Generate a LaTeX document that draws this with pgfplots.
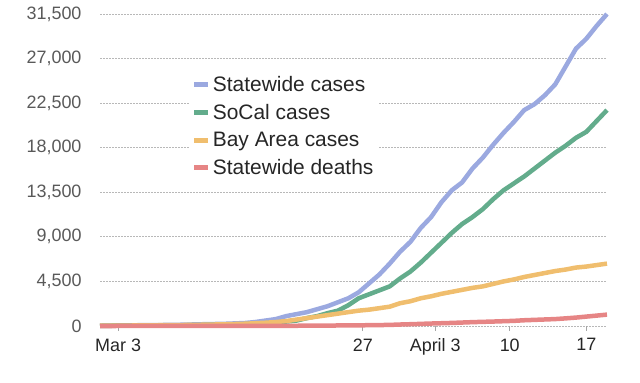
\documentclass[border=0pt]{standalone}
\usepackage{pgfplots}
\pgfplotsset{compat=1.18}
\usepackage{fontspec}
\setmainfont{Liberation Sans}
\definecolor{cblue}{HTML}{9BA9E0}
\definecolor{cgreen}{HTML}{63AC8C}
\definecolor{corange}{HTML}{F0BE6E}
\definecolor{cred}{HTML}{E68585}
\begin{document}
\begin{tikzpicture}
\begin{axis}[
  scale only axis, width=507bp, height=312bp,
  xmin=-2, xmax=47, ymin=0, ymax=31500,
  clip=false,
  axis x line*=bottom, axis y line*=left, axis line style={draw=none},
  xtick={-0.25,23.4,30.4,37.6,45},
  xticklabels={Mar 3,27,April 3,10,17},
  ytick={0,4500,9000,13500,18000,22500,27000,31500},
  ymajorgrids,
  grid style={black!28, dash pattern=on 1.5bp off 1.5bp, line width=0.8bp},
  x tick style={draw=black!35, line width=1bp},
  y tick style={draw=none},
  major tick length=5bp, tick align=outside,
  scaled y ticks=false,
  /pgf/number format/assume math mode=true,
  yticklabel style={font=\fontsize{18}{20}\selectfont, text=black!65, xshift=-10bp, /pgf/number format/fixed, /pgf/number format/1000 sep={,}},
  xticklabel style={font=\fontsize{18}{20}\selectfont, text=black!85, yshift=-4bp},
  legend style={at={(rel axis cs:0.175,0.815)}, anchor=north west, draw=none, fill=white,
    font=\fontsize{21}{24}\selectfont, text=black!85, row sep=7.5bp},
  legend cell align=left,
  legend image code/.code={\draw[#1, line width=5bp] (0bp,0bp) -- (14bp,0bp);},
]
\addplot[cblue, line width=4.5bp, line join=round] coordinates {
(-2,50)(0,60)(2,80)(4,100)(6,130)(8,180)(10,220)(12,300)(13,400)(14,550)(15,700)(16,1000)(17,1200)(18,1400)(19,1700)(20,2000)(21,2400)(22,2800)(23,3400)(24,4300)(25,5200)(26,6300)(27,7500)(28,8500)(29,9900)(30,11000)(31,12500)(32,13700)(33,14500)(34,15900)(35,17000)(36,18300)(37,19500)(38,20600)(39,21800)(40,22400)(41,23300)(42,24400)(43,26200)(44,28000)(45,29000)(46,30300)(47,31500)
};
\addlegendentry{Statewide cases}
\addplot[cgreen, line width=4.5bp, line join=round] coordinates {
(-2,20)(0,30)(2,40)(4,50)(6,70)(8,100)(10,130)(12,180)(14,280)(15,350)(16,450)(17,550)(18,800)(19,1000)(20,1300)(21,1550)(22,2100)(23,2800)(24,3200)(25,3600)(26,4000)(27,4800)(28,5500)(29,6400)(30,7400)(31,8400)(32,9400)(33,10300)(34,11000)(35,11800)(36,12800)(37,13700)(38,14400)(39,15100)(40,15900)(41,16700)(42,17500)(43,18200)(44,19000)(45,19600)(46,20700)(47,21800)
};
\addlegendentry{SoCal cases}
\addplot[corange, line width=4.5bp, line join=round] coordinates {
(-2,30)(0,40)(2,60)(4,80)(6,100)(8,130)(10,170)(12,230)(14,330)(15,400)(16,500)(17,650)(18,800)(19,950)(20,1100)(21,1250)(22,1400)(23,1550)(24,1650)(25,1800)(26,1950)(27,2300)(28,2500)(29,2800)(30,3000)(31,3250)(32,3450)(33,3650)(34,3850)(35,4000)(36,4250)(37,4500)(38,4700)(39,4950)(40,5150)(41,5350)(42,5550)(43,5700)(44,5900)(45,6000)(46,6150)(47,6300)
};
\addlegendentry{Bay Area cases}
\addplot[cred, line width=4.5bp, line join=round] coordinates {
(-2,0)(4,2)(8,5)(12,10)(16,20)(18,30)(20,45)(22,60)(24,80)(26,110)(27,150)(28,180)(30,250)(32,310)(33,350)(34,390)(36,450)(38,520)(39,580)(40,620)(42,700)(43,770)(44,850)(45,950)(46,1050)(47,1150)
};
\addlegendentry{Statewide deaths}
\end{axis}
\path ([shift={(-100bp,-56bp)}]current axis.south west) rectangle ([shift={(33bp,14bp)}]current axis.north east);
\end{tikzpicture}
\end{document}
